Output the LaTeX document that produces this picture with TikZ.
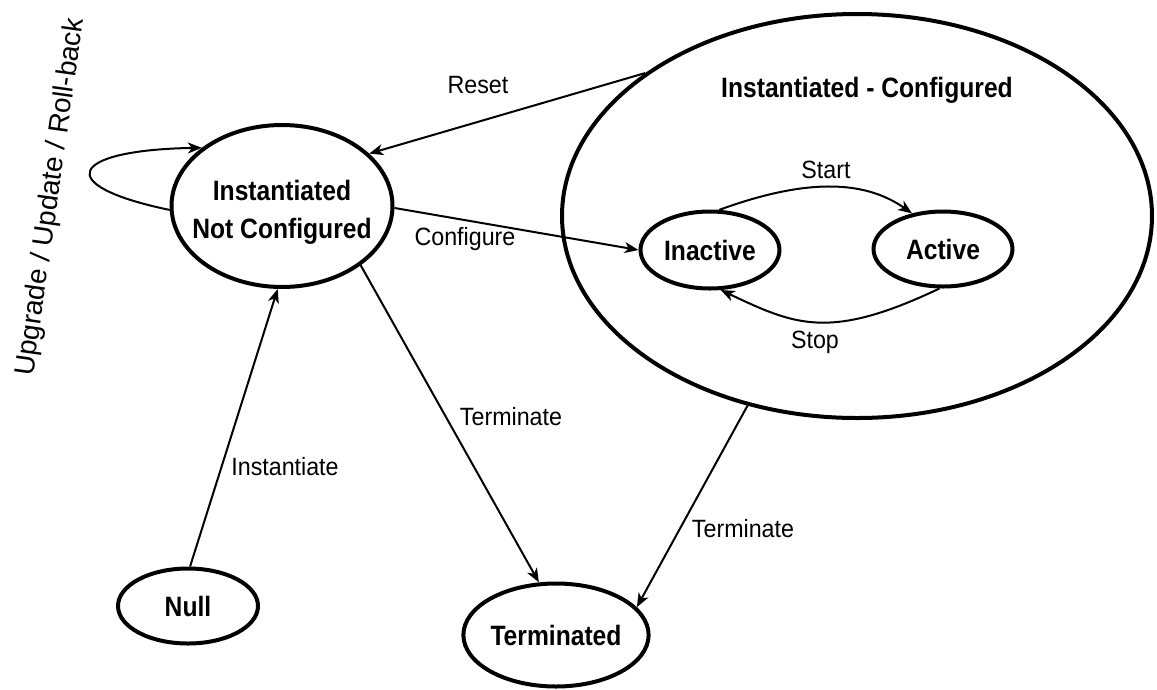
\documentclass[tikz,border=0pt]{standalone}
\usepackage{fontspec}
\setmainfont{Liberation Sans}
\newfontfamily\statefont{Liberation Sans}[FakeStretch=0.88]
\newfontfamily\edgefont{Liberation Sans}[FakeStretch=0.93]
\usetikzlibrary{shapes.geometric,arrows.meta}

\begin{document}
\begin{tikzpicture}[x=1pt,y=-1pt,
  state/.style={ellipse,draw,line width=4pt,inner sep=0pt,
    font=\statefont\bfseries\fontsize{28}{38}\selectfont,align=center},
  statetext/.style={font=\statefont\bfseries\fontsize{28}{38}\selectfont,
    align=center,inner sep=0pt},
  edgelabel/.style={font=\edgefont\fontsize{25}{30}\selectfont,anchor=base,inner sep=0pt},
  conn/.style={line width=2pt,-{Stealth[length=14pt,width=11pt,inset=4pt]}},
]
\useasboundingbox (0,0) rectangle (1157,689);

% states
\node[state,minimum width=590pt,minimum height=404pt] (cfg) at (857,216) {};
\node[statetext,anchor=base] (cfgtitle) at (867,97) {Instantiated - Configured};
\node[state,minimum width=221pt,minimum height=162pt] (inc) at (282,206) {};
\node[statetext] (inctext) at (282,212) {Instantiated\\Not Configured};
\node[state,minimum width=139pt,minimum height=77pt] (ina) at (710,250) {Inactive};
\node[state,minimum width=139pt,minimum height=75pt] (act) at (943,249) {Active};
\node[state,minimum width=140pt,minimum height=75pt] (null) at (188,606) {Null};
\node[state,minimum width=167pt,minimum height=103pt] (term) at (556,635) {Terminated};

% transitions
\draw[conn] (cfg.146) -- (inc.31);
\draw[conn] (inc.-1) -- (ina.west);
\draw[conn] (ina.77) .. controls (804,179) and (863,179) .. (act.131);
\draw[conn] (act.-95) .. controls (829,341) and (795,325) .. (ina.-75);
\draw[conn] (null.87) -- (inc.-93);
\draw[conn] (inc.-37) -- (term.108);
\draw[conn] (cfg.-120) -- (term.19);
\draw[conn] (inc.182) .. controls (50,185) and (70,150) .. (inc.144);

% labels
\node[edgelabel] (lreset) at (478,93) {Reset};
\node[edgelabel] (lconf) at (465,245) {Configure};
\node[edgelabel] (lstart) at (826,178) {Start};
\node[edgelabel] (lstop) at (815,348) {Stop};
\node[edgelabel] (lterm1) at (511,425) {Terminate};
\node[edgelabel] (linst) at (285,475) {Instantiate};
\node[edgelabel] (lterm2) at (743,537) {Terminate};
\node[font=\fontsize{28}{34}\selectfont,rotate=82,inner sep=0pt] (lupd) at (51,197)
  {Upgrade / Update / Roll-back};
\end{tikzpicture}
\end{document}
